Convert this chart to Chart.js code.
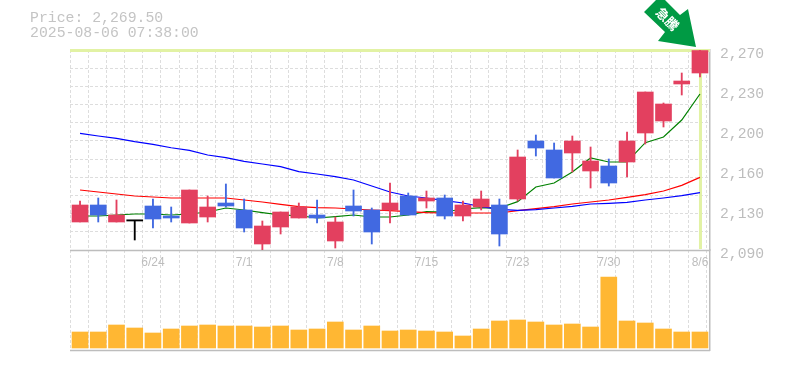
<!DOCTYPE html>
<html>
<head>
<meta charset="utf-8">
<style>
html,body{margin:0;padding:0;background:#fff;width:785px;height:370px;overflow:hidden}
#wrap{position:relative;width:785px;height:370px}
#head{position:absolute;left:30px;top:11px;font:14.8px/15px "Liberation Mono",monospace;color:#c4c4c4;white-space:pre}
canvas{display:block}
</style>
<script src="https://cdn.jsdelivr.net/npm/chart.js@4/dist/chart.umd.min.js"></script>
</head>
<body>
<div id="wrap">
<div id="head">Price: 2,269.50
2025-08-06 07:38:00</div>
<canvas id="c" width="785" height="370"></canvas>
</div>
<script>
const dateLabelIndex = [4,9,14,19,24,29,34];
const dateLabelText = ['6/24','7/1','7/8','7/15','7/23','7/30','8/6'];
const opens  = [2115.2,2130.5,2115.2,2116.1,2129.6,2120.6,2114.3,2119.7,2132.3,2126,2095.4,2110.7,2118.8,2121.5,2098.1,2129.6,2126,2126,2138.6,2134.1,2136.8,2120.6,2128.7,2130.5,2135.9,2188.1,2180,2177.3,2161.1,2165.6,2169.2,2195.3,2206.1,2239.4,2249.3];
const highs  = [2134.1,2136.8,2135,2116.1,2135.9,2128.7,2144,2138.6,2149.4,2135.9,2116.1,2124.2,2132.3,2135,2119.7,2144,2127.8,2150.3,2141.3,2143.1,2139.5,2134.1,2143.1,2135.9,2180,2193.5,2186.3,2192.6,2182.7,2171.9,2196.2,2232.2,2222.3,2249.3,2270];
const lows   = [2115.2,2115.2,2115.2,2099,2109.8,2115.2,2114.3,2115.2,2128.7,2106.2,2090,2104.4,2118.8,2114.3,2091.8,2120.6,2095.4,2114.3,2121.5,2127.8,2117.9,2116.1,2126,2093.6,2134.1,2174.6,2154.8,2160.2,2145.8,2147.6,2155.7,2185.4,2200.7,2229.5,2245.7];
const closes = [2130.5,2121.5,2121.5,2116.1,2117.9,2118.8,2144,2128.7,2129.6,2109.8,2111.6,2124.2,2128.7,2118.8,2115.2,2125.1,2106.2,2132.3,2121.5,2136.8,2120.6,2130.5,2135.9,2104.4,2173.7,2181.8,2154.8,2188.1,2170.1,2150.3,2188.1,2232.2,2221.4,2242.1,2269.5];
const maShort = [2120.6,2120.6,2121.5,2122.4,2122.4,2121.5,2122.4,2124.2,2127.8,2126,2123.6,2121.5,2120.9,2118.8,2120,2121.5,2119.7,2119.7,2121.5,2124.5,2124.2,2126.9,2128.1,2127.8,2133.5,2146.7,2150.3,2160.2,2172.8,2169.2,2169.2,2186.6,2191.7,2207,2230.4];
const maMid = [2144,2142.2,2140.4,2138.6,2137.7,2136.8,2136.8,2136.8,2136.8,2135,2133.2,2131.1,2129,2128.1,2127.8,2126.9,2126,2125.4,2124.5,2123.6,2123.3,2123.3,2123.3,2123.3,2125.4,2127.2,2129,2131.4,2133.2,2135,2137.4,2139.8,2143.1,2148.2,2155.4];
const maLong = [2195,2192.6,2190.5,2187.5,2185.1,2182,2179.7,2175.5,2173.1,2169.8,2167.4,2165,2160.5,2158.4,2156,2153,2147.6,2142.2,2138.6,2136.8,2134.4,2132.3,2129,2126.5,2125.7,2126.3,2127.8,2129.3,2131.4,2132,2132.9,2135,2136.8,2138.9,2141.6];
const volumes = [16,16,23,20,15,19,22,23,22,22,21,22,18,19,26,18,22,17,18,17,16,12,19,27,28,26,23,24,21,71,27,25,19,16,16];
const priceTickValues = [2270,2234,2198,2162,2126,2090];
const priceTickText = ['2,270','2,230','2,200','2,160','2,130','2,090'];
const arrowText = '急騰';

const RED='#e3405f', BLUE='#4169e1', BLACK='#000000';
const idx = opens.map((_,i)=>i);
const candleColor = idx.map(i => opens[i]===closes[i] ? BLACK : (closes[i]>opens[i] ? RED : BLUE));
const gridStep = 180/11;
const gridValues = Array.from({length:10},(_,k)=>2270-(k+1)*gridStep);

const decorate = {
  id:'decorate',
  beforeDatasetsDraw(chart){
    const {ctx,chartArea:a,scales} = chart;
    const lx = scales.x.getPixelForValue(idx.length-1);
    ctx.save();
    ctx.strokeStyle = '#e2f2a4';
    ctx.lineWidth = 3;
    ctx.beginPath();
    ctx.moveTo(a.left,a.top+0.5); ctx.lineTo(a.right,a.top+0.5);
    ctx.moveTo(lx+0.5,a.top); ctx.lineTo(lx+0.5,scales.y.getPixelForValue(2091));
    ctx.stroke();
    ctx.strokeStyle = '#bdbdbd';
    ctx.lineWidth = 1.5;
    ctx.beginPath();
    const by = scales.y.getPixelForValue(2090);
    ctx.moveTo(a.left,by+0.5); ctx.lineTo(a.right,by+0.5);
    ctx.moveTo(a.left,a.bottom+0.5); ctx.lineTo(a.right,a.bottom+0.5);
    ctx.stroke();
    ctx.restore();
  },
  afterDraw(chart){
    const {ctx} = chart;
    ctx.save();
    ctx.fillStyle = '#009a44';
    ctx.beginPath();
    [[644,12],[656,0],[665,0],[680,15],[688,9],[696,47],[658,41],[665,32]].forEach((p,i)=> i?ctx.lineTo(p[0],p[1]):ctx.moveTo(p[0],p[1]));
    ctx.closePath();
    ctx.fill();
    ctx.translate(667.5,19);
    ctx.rotate(Math.PI/4);
    ctx.fillStyle = '#ffffff';
    ctx.font = 'bold 13px "Noto Sans CJK JP"';
    ctx.textAlign = 'center';
    ctx.textBaseline = 'middle';
    ctx.fillText(arrowText,0,0);
    ctx.restore();
  }
};

new Chart(document.getElementById('c'),{
  data:{datasets:[
    {type:'line',label:'MA short',xAxisID:'x',yAxisID:'y',order:5,data:idx.map(i=>({x:i,y:maShort[i]})),borderColor:'#008000',borderWidth:1.2,pointRadius:0,tension:0},
    {type:'line',label:'MA mid',xAxisID:'x',yAxisID:'y',order:4,data:idx.map(i=>({x:i,y:maMid[i]})),borderColor:'#ff0000',borderWidth:1.2,pointRadius:0,tension:0},
    {type:'line',label:'MA long',xAxisID:'x',yAxisID:'y',order:3,data:idx.map(i=>({x:i,y:maLong[i]})),borderColor:'#0000ff',borderWidth:1.2,pointRadius:0,tension:0},
    {type:'bar',label:'Wick',xAxisID:'x',yAxisID:'y',order:2,grouped:false,barThickness:1.2,data:idx.map(i=>({x:i,y:[lows[i],highs[i]]})),backgroundColor:candleColor},
    {type:'bar',label:'Body',xAxisID:'x',yAxisID:'y',order:1,grouped:false,barThickness:16,minBarLength:1.2,data:idx.map(i=>({x:i,y:[opens[i],closes[i]]})),backgroundColor:candleColor},
    {type:'bar',label:'Volume',xAxisID:'x',yAxisID:'v',order:6,grouped:false,barThickness:16,data:idx.map(i=>({x:i,y:volumes[i]})),backgroundColor:'#ffb733'}
  ]},
  plugins:[decorate],
  options:{
    responsive:false,animation:false,
    layout:{padding:{left:70,top:50,right:0,bottom:20}},
    plugins:{legend:{display:false},tooltip:{enabled:false},title:{display:false}},
    scales:{
      x:{type:'linear',position:{y:2090},offset:false,min:-0.55,max:34.55,
        afterBuildTicks(s){s.ticks=dateLabelIndex.map(v=>({value:v}));},
        grid:{display:false,drawTicks:false,offset:false},border:{display:false},
        ticks:{autoSkip:false,maxRotation:0,padding:5,color:'#bdbdbd',font:{family:'"Liberation Sans"',size:12},
          callback(v){return dateLabelText[dateLabelIndex.indexOf(v)];}}},
      xGrid:{type:'linear',axis:'x',position:'top',offset:false,min:0,max:35.2,
        afterBuildTicks(s){s.ticks=Array.from({length:36},(_,k)=>({value:k}));},
        afterFit(s){s.height=0;},
        ticks:{display:false},border:{display:false,dash:[3,2]},
        grid:{color:'#dddddd',lineWidth:1,drawTicks:false,offset:false}},
      y:{type:'linear',position:'right',stack:'p',stackWeight:2,weight:1,min:2090,max:2270,
        afterBuildTicks(s){s.ticks=priceTickValues.concat(gridValues).map(v=>({value:v}));},
        afterFit(s){s.width=75;},
        border:{color:'#bdbdbd',width:1.5,dash:[3,2]},
        grid:{drawTicks:false,lineWidth:1,color(c){return priceTickValues.slice(1,-1).includes(c.tick.value)?'rgba(0,0,0,0)':'#dddddd';}},
        ticks:{autoSkip:false,padding:10,labelOffset:4,color:'#bdbdbd',font:{family:'"Liberation Mono"',size:14.7},
          callback(v){const k=priceTickValues.indexOf(v);return k<0?'':priceTickText[k];}}},
      v:{type:'linear',position:'right',stack:'p',stackWeight:1,weight:2,min:-2,max:98,
        afterFit(s){s.width=75;},
        border:{color:'#bdbdbd',width:1.5},
        grid:{display:false},ticks:{display:false}}
    }
  }
});
</script>
</body>
</html>
